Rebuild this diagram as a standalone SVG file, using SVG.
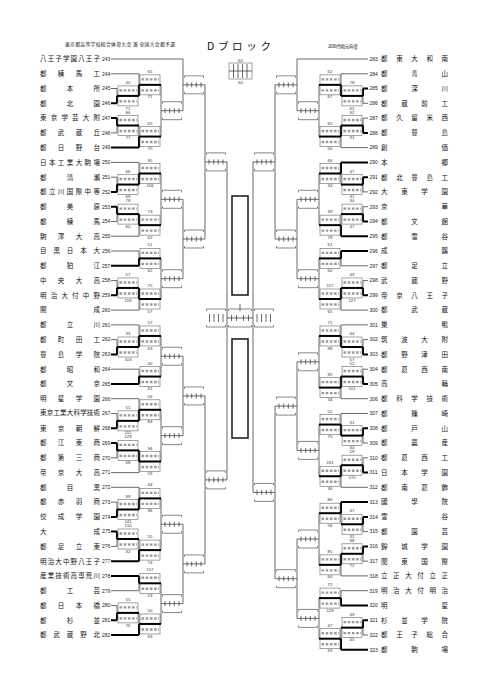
<svg xmlns="http://www.w3.org/2000/svg" width="481" height="680" viewBox="0 0 481 680">
<style>
.ln{fill:none;stroke:#444;stroke-width:.8}
.tk{fill:none;stroke:#000;stroke-width:2}
.bx{fill:none;stroke:#666;stroke-width:.6}
.dg{fill:none;stroke:#9a9a9a;stroke-width:2.4;stroke-dasharray:2.6 1.6}
.br{fill:none;stroke:#555;stroke-width:.7}
.nm{font-family:"Noto Sans CJK JP","Noto Sans CJK SC",sans-serif;font-size:6.5px;fill:#111}
.no{font-family:"Liberation Sans",Arial,sans-serif;font-size:5px;fill:#222}
.sc{font-family:"Liberation Sans",Arial,sans-serif;font-size:4.3px;fill:#333;text-anchor:middle}
.hd{font-family:"Noto Sans CJK JP","Noto Sans CJK SC",sans-serif;fill:#111}
</style>
<defs>
<g id="pb"><rect class="bx" x="1" y="-10" width="20" height="20"/><path class="dg" d="M2.5 -5.5H20M2.5 5.5H20"/><path class="tk" d="M0 0H22"/></g>
<g id="ub"><path class="ln" d="M0 0H22M4 -2.5v5M8.7 -2.5v5M13.3 -2.5v5M18 -2.5v5"/><path class="br" d="M1.5 -7V-9H20.5V-7M1.5 7V9H20.5V7"/></g>
</defs>
<rect width="481" height="680" fill="#fff"/>
<g id="header">
<text class="hd" x="65" y="46" font-size="4.8" textLength="110" lengthAdjust="spacing">東京都高等学校総合体育大会 兼 全国大会都予選</text>
<text class="hd" x="207" y="50" font-size="10.5" textLength="64" lengthAdjust="spacing">Dブロック</text>
<text class="hd" x="328" y="47.5" font-size="4.5" textLength="30" lengthAdjust="spacing">2019(令和元)年度</text>
</g>
<g id="legend">
<text class="sc" x="240.5" y="61.5" font-size="4">60</text>
<rect class="bx" x="229" y="63" width="23" height="16"/>
<path class="ln" d="M229 71H252M233.5 64v14M238 64v14M242.5 64v14M247 64v14"/>
<text class="sc" x="240.5" y="84" font-size="4">60</text>
</g>
<g id="connectors">
<path class="ln" d="M111 59H183M111 73.8H139M111 88.5H117M111 132.9H117M111 162.4H139M111 177.2H117M111 221.5H117M111 236.2H139M111 251H139M111 280.6H117M111 310.1H139M111 324.9H139M111 339.6H117M111 369.2H139M111 398.7H139M111 413.5H117M111 457.8H117M111 472.6H139M111 487.3H139M111 502.1H117M111 546.4H117M111 590.7H139M111 605.5H117"/>
<path class="tk" d="M111 103.3H117M111 118.1H117M111 147.6H139M111 191.9H117M111 206.7H117M111 265.8H139M111 295.3H117M111 354.4H117M111 383.9H139M111 428.2H117M111 443H117M111 516.9H117M111 531.6H117M111 561.2H139M111 575.9H139M111 620.3H117M111 635H139"/>
<path class="ln" d="M117 88.5V103.3M139 73.8V95.9M117 118.1V132.9M139 125.5V147.6M161 84.85V136.55M183 59V110.7M117 177.2V191.9M139 162.4V184.55M117 206.7V221.5M139 214.1V236.2M161 173.5V225.15M139 251V265.8M117 280.6V295.3M139 287.95V310.1M161 258.4V299M183 199.3V278.7M205 84.85V239M117 339.6V354.4M139 324.9V347M139 369.2V383.9M161 335.95V376.55M117 413.5V428.2M139 398.7V420.85M117 443V457.8M139 450.4V472.6M161 409.8V461.5M183 356.25V435.65M117 502.1V516.9M139 487.3V509.5M117 531.6V546.4M139 539V561.2M161 498.4V550.1M139 575.9V590.7M117 605.5V620.3M139 612.9V635M161 583.3V623.95M183 524.25V603.6M205 395.95V563.9M227 161.9V479.9"/>
<path class="tk" d="M117 103.3V95.9M139 95.9V84.85M117 118.1V125.5M139 147.6V136.55M117 191.9V184.55M139 184.55V173.5M117 206.7V214.1M139 214.1V225.15M139 265.8V258.4M117 295.3V287.95M139 287.95V299M117 354.4V347M139 347V335.95M139 383.9V376.55M117 428.2V420.85M139 420.85V409.8M117 443V450.4M139 450.4V461.5M117 516.9V509.5M139 509.5V498.4M117 531.6V539M139 561.2V550.1M139 575.9V583.3M117 620.3V612.9M139 635V623.95"/>
<path class="ln" d="M297 59H368M341 73.8H368M363 103.3H368M363 118.1H368M341 147.6H368M363 191.9H368M363 206.7H368M341 265.8H368M363 280.6H368M341 310.1H368M341 324.9H368M363 339.6H368M363 369.2H368M341 398.7H368M341 413.5H368M363 443H368M363 457.8H368M341 487.3H368M363 531.6H368M363 561.2H368M341 575.9H368M341 590.7H368M363 635H368"/>
<path class="tk" d="M363 88.5H368M363 132.9H368M341 162.4H368M363 177.2H368M363 221.5H368M341 236.2H368M341 251H368M363 295.3H368M363 354.4H368M363 383.9H368M363 428.2H368M363 472.6H368M341 502.1H368M363 516.9H368M363 546.4H368M341 605.5H368M363 620.3H368M341 649.8H368"/>
<path class="ln" d="M363 88.5V103.3M341 73.8V95.9M363 118.1V132.9M341 125.5V147.6M319 84.85V136.55M297 59V110.7M363 177.2V191.9M341 162.4V184.55M363 206.7V221.5M341 214.1V236.2M319 173.5V225.15M341 251V265.8M363 280.6V295.3M341 287.95V310.1M319 258.4V299M297 199.3V278.7M275 84.85V239M363 339.6V354.4M341 324.9V347M363 369.2V383.9M341 376.55V398.7M319 335.95V387.6M363 428.2V443M341 413.5V435.6M363 457.8V472.6M341 465.2V487.3M319 424.55V476.25M297 361.8V450.4M363 516.9V531.6M341 502.1V524.25M363 546.4V561.2M341 553.8V575.9M319 513.2V564.85M341 590.7V605.5M363 620.3V635M341 627.65V649.8M319 598.1V638.7M297 539V618.4M275 406.1V578.7M253 161.9V492.4"/>
<path class="tk" d="M363 88.5V95.9M341 95.9V84.85M363 132.9V125.5M341 125.5V136.55M363 177.2V184.55M341 162.4V173.5M363 221.5V214.1M341 236.2V225.15M341 251V258.4M363 295.3V287.95M341 287.95V299M363 354.4V347M341 347V335.95M363 383.9V376.55M341 376.55V387.6M363 428.2V435.6M341 435.6V424.55M363 472.6V465.2M341 465.2V476.25M363 516.9V524.25M341 502.1V513.2M363 546.4V553.8M341 553.8V564.85M341 605.5V598.1M363 620.3V627.65M341 649.8V638.7"/>
</g>
<g id="final">
<path class="br" d="M206.5 311V309H225.5V311M206.5 325V327H225.5V325M254.5 311V309H273.5V311M254.5 325V327H273.5V325M228.5 311V309H251.5V311M228.5 325V327H251.5V325"/>
<path class="ln" d="M209.5 314v8M214 314v8M218.5 314v8M223 314v8M257 314v8M261.5 314v8M266 314v8M270.5 314v8M227 318H253M231.5 315v6M236.5 315v6M243.5 315v6M248.5 315v6M240 304v7"/>
<rect x="232" y="196" width="16" height="99" fill="none" stroke="#222" stroke-width="1.6"/>
<rect x="232" y="339" width="16" height="99" fill="none" stroke="#222" stroke-width="1.6"/>
</g>
<g id="unplayed">
<use href="#ub" x="161" y="110.7"/><use href="#ub" x="183" y="84.85"/><use href="#ub" x="161" y="199.3"/><use href="#ub" x="161" y="278.7"/><use href="#ub" x="183" y="239"/><use href="#ub" x="205" y="161.9"/><use href="#ub" x="161" y="356.25"/><use href="#ub" x="161" y="435.65"/><use href="#ub" x="183" y="395.95"/><use href="#ub" x="161" y="524.25"/><use href="#ub" x="161" y="603.6"/><use href="#ub" x="183" y="563.9"/><use href="#ub" x="205" y="479.9"/>
<use href="#ub" x="297" y="110.7"/><use href="#ub" x="275" y="84.85"/><use href="#ub" x="297" y="199.3"/><use href="#ub" x="297" y="278.7"/><use href="#ub" x="275" y="239"/><use href="#ub" x="253" y="161.9"/><use href="#ub" x="297" y="361.8"/><use href="#ub" x="297" y="450.4"/><use href="#ub" x="275" y="406.1"/><use href="#ub" x="297" y="539"/><use href="#ub" x="297" y="618.4"/><use href="#ub" x="275" y="578.7"/><use href="#ub" x="253" y="492.4"/>
</g>
<g id="played-left">
<g id="mA1"><use href="#pb" x="117" y="95.9"/><text class="sc" x="128" y="83.9">45</text><text class="sc" x="128" y="109.5">71</text></g>
<g id="mA2"><use href="#pb" x="139" y="84.85"/><text class="sc" x="150" y="72.85">65</text><text class="sc" x="150" y="98.45">71</text></g>
<g id="mA3"><use href="#pb" x="117" y="125.5"/><text class="sc" x="128" y="113.5">86</text><text class="sc" x="128" y="139.1">77</text></g>
<g id="mA4"><use href="#pb" x="139" y="136.55"/><text class="sc" x="150" y="124.55">65</text><text class="sc" x="150" y="150.15">75</text></g>
<g id="mB1"><use href="#pb" x="117" y="184.55"/><text class="sc" x="128" y="172.55">66</text><text class="sc" x="128" y="198.15">69</text></g>
<g id="mB2"><use href="#pb" x="139" y="173.5"/><text class="sc" x="150" y="161.5">95</text><text class="sc" x="150" y="187.1">106</text></g>
<g id="mB3"><use href="#pb" x="117" y="214.1"/><text class="sc" x="128" y="202.1">78</text><text class="sc" x="128" y="227.7">60</text></g>
<g id="mB4"><use href="#pb" x="139" y="225.15"/><text class="sc" x="150" y="213.15">73</text><text class="sc" x="150" y="238.75">62</text></g>
<g id="mC1"><use href="#pb" x="139" y="258.4"/><text class="sc" x="150" y="246.4">51</text><text class="sc" x="150" y="272">62</text></g>
<g id="mC2"><use href="#pb" x="117" y="287.95"/><text class="sc" x="128" y="275.95">57</text><text class="sc" x="128" y="301.55">119</text></g>
<g id="mC3"><use href="#pb" x="139" y="299"/><text class="sc" x="150" y="287">75</text><text class="sc" x="150" y="312.6">57</text></g>
<g id="mD1"><use href="#pb" x="117" y="347"/><text class="sc" x="128" y="335">33</text><text class="sc" x="128" y="360.6">103</text></g>
<g id="mD2"><use href="#pb" x="139" y="335.95"/><text class="sc" x="150" y="323.95">57</text><text class="sc" x="150" y="349.55">63</text></g>
<g id="mD3"><use href="#pb" x="139" y="376.55"/><text class="sc" x="150" y="364.55">40</text><text class="sc" x="150" y="390.15">61</text></g>
<g id="mE1"><use href="#pb" x="117" y="420.85"/><text class="sc" x="128" y="408.85">51</text><text class="sc" x="128" y="434.45">111</text></g>
<g id="mE2"><use href="#pb" x="139" y="409.8"/><text class="sc" x="150" y="397.8">56</text><text class="sc" x="150" y="423.4">84</text></g>
<g id="mE3"><use href="#pb" x="117" y="450.4"/><text class="sc" x="128" y="438.4">129</text><text class="sc" x="128" y="464">68</text></g>
<g id="mE4"><use href="#pb" x="139" y="461.5"/><text class="sc" x="150" y="449.5">94</text><text class="sc" x="150" y="475.1">59</text></g>
<g id="mF1"><use href="#pb" x="117" y="509.5"/><text class="sc" x="128" y="497.5">39</text><text class="sc" x="128" y="523.1">141</text></g>
<g id="mF2"><use href="#pb" x="139" y="498.4"/><text class="sc" x="150" y="486.4">44</text><text class="sc" x="150" y="512">96</text></g>
<g id="mF3"><use href="#pb" x="117" y="539"/><text class="sc" x="128" y="527">110</text><text class="sc" x="128" y="552.6">32</text></g>
<g id="mF4"><use href="#pb" x="139" y="550.1"/><text class="sc" x="150" y="538.1">55</text><text class="sc" x="150" y="563.7">74</text></g>
<g id="mG1"><use href="#pb" x="139" y="583.3"/><text class="sc" x="150" y="571.3">117</text><text class="sc" x="150" y="596.9">53</text></g>
<g id="mG2"><use href="#pb" x="117" y="612.9"/><text class="sc" x="128" y="600.9">55</text><text class="sc" x="128" y="626.5">76</text></g>
<g id="mG3"><use href="#pb" x="139" y="623.95"/><text class="sc" x="150" y="611.95">50</text><text class="sc" x="150" y="637.55">69</text></g>
</g>
<g id="played-right">
<g id="ma1"><use href="#pb" x="341" y="95.9"/><text class="sc" x="352" y="83.9">78</text><text class="sc" x="352" y="109.5">61</text></g>
<g id="ma2"><use href="#pb" x="319" y="84.85"/><text class="sc" x="330" y="72.85">62</text><text class="sc" x="330" y="98.45">67</text></g>
<g id="ma3"><use href="#pb" x="341" y="125.5"/><text class="sc" x="352" y="113.5">32</text><text class="sc" x="352" y="139.1">91</text></g>
<g id="ma4"><use href="#pb" x="319" y="136.55"/><text class="sc" x="330" y="124.55">65</text><text class="sc" x="330" y="150.15">50</text></g>
<g id="mb1"><use href="#pb" x="341" y="184.55"/><text class="sc" x="352" y="172.55">47</text><text class="sc" x="352" y="198.15">31</text></g>
<g id="mb2"><use href="#pb" x="319" y="173.5"/><text class="sc" x="330" y="161.5">66</text><text class="sc" x="330" y="187.1">34</text></g>
<g id="mb3"><use href="#pb" x="341" y="214.1"/><text class="sc" x="352" y="202.1">34</text><text class="sc" x="352" y="227.7">47</text></g>
<g id="mb4"><use href="#pb" x="319" y="225.15"/><text class="sc" x="330" y="213.15">39</text><text class="sc" x="330" y="238.75">79</text></g>
<g id="mc1"><use href="#pb" x="319" y="258.4"/><text class="sc" x="330" y="246.4">61</text><text class="sc" x="330" y="272">60</text></g>
<g id="mc2"><use href="#pb" x="341" y="287.95"/><text class="sc" x="352" y="275.95">49</text><text class="sc" x="352" y="301.55">127</text></g>
<g id="mc3"><use href="#pb" x="319" y="299"/><text class="sc" x="330" y="287">117</text><text class="sc" x="330" y="312.6">65</text></g>
<g id="md1"><use href="#pb" x="341" y="347"/><text class="sc" x="352" y="335">44</text><text class="sc" x="352" y="360.6">57</text></g>
<g id="md2"><use href="#pb" x="319" y="335.95"/><text class="sc" x="330" y="323.95">71</text><text class="sc" x="330" y="349.55">98</text></g>
<g id="md3"><use href="#pb" x="341" y="376.55"/><text class="sc" x="352" y="364.55">52</text><text class="sc" x="352" y="390.15">101</text></g>
<g id="md4"><use href="#pb" x="319" y="387.6"/><text class="sc" x="330" y="375.6">95</text><text class="sc" x="330" y="401.2">34</text></g>
<g id="me1"><use href="#pb" x="341" y="435.6"/><text class="sc" x="352" y="423.6">91</text><text class="sc" x="352" y="449.2">30</text></g>
<g id="me2"><use href="#pb" x="319" y="424.55"/><text class="sc" x="330" y="412.55">52</text><text class="sc" x="330" y="438.15">75</text></g>
<g id="me3"><use href="#pb" x="341" y="465.2"/><text class="sc" x="352" y="453.2">29</text><text class="sc" x="352" y="478.8">170</text></g>
<g id="me4"><use href="#pb" x="319" y="476.25"/><text class="sc" x="330" y="464.25">191</text><text class="sc" x="330" y="489.85">36</text></g>
<g id="mf1"><use href="#pb" x="341" y="524.25"/><text class="sc" x="352" y="512.25">47</text><text class="sc" x="352" y="537.85">31</text></g>
<g id="mf2"><use href="#pb" x="319" y="513.2"/><text class="sc" x="330" y="501.2">86</text><text class="sc" x="330" y="526.8">56</text></g>
<g id="mf3"><use href="#pb" x="341" y="553.8"/><text class="sc" x="352" y="541.8">98</text><text class="sc" x="352" y="567.4">72</text></g>
<g id="mf4"><use href="#pb" x="319" y="564.85"/><text class="sc" x="330" y="552.85">85</text><text class="sc" x="330" y="578.45">60</text></g>
<g id="mg1"><use href="#pb" x="319" y="598.1"/><text class="sc" x="330" y="586.1">72</text><text class="sc" x="330" y="611.7">129</text></g>
<g id="mg2"><use href="#pb" x="341" y="627.65"/><text class="sc" x="352" y="615.65">49</text><text class="sc" x="352" y="641.25">45</text></g>
<g id="mg3"><use href="#pb" x="319" y="638.7"/><text class="sc" x="330" y="626.7">47</text><text class="sc" x="330" y="652.3">69</text></g>
</g>
<g id="teams-left">
<g id="t243"><text class="nm" x="40" y="61.3" textLength="60" lengthAdjust="spacing">八王子学園八王子</text><text class="no" x="102" y="60.8">243</text></g>
<g id="t244"><text class="nm" x="40" y="76.1" textLength="60" lengthAdjust="spacing">都練馬工</text><text class="no" x="102" y="75.6">244</text></g>
<g id="t245"><text class="nm" x="40" y="90.8" textLength="60" lengthAdjust="spacing">都本所</text><text class="no" x="102" y="90.3">245</text></g>
<g id="t246"><text class="nm" x="40" y="105.6" textLength="60" lengthAdjust="spacing">都北園</text><text class="no" x="102" y="105.1">246</text></g>
<g id="t247"><text class="nm" x="40" y="120.4" textLength="60" lengthAdjust="spacing">東京学芸大附</text><text class="no" x="102" y="119.9">247</text></g>
<g id="t248"><text class="nm" x="40" y="135.2" textLength="60" lengthAdjust="spacing">都武蔵丘</text><text class="no" x="102" y="134.7">248</text></g>
<g id="t249"><text class="nm" x="40" y="149.9" textLength="60" lengthAdjust="spacing">都日野台</text><text class="no" x="102" y="149.4">249</text></g>
<g id="t250"><text class="nm" x="40" y="164.7" textLength="60" lengthAdjust="spacing">日本工業大駒場</text><text class="no" x="102" y="164.2">250</text></g>
<g id="t251"><text class="nm" x="40" y="179.5" textLength="60" lengthAdjust="spacing">都清瀬</text><text class="no" x="102" y="179">251</text></g>
<g id="t252"><text class="nm" x="40" y="194.2" textLength="60" lengthAdjust="spacing">都立川国際中等</text><text class="no" x="102" y="193.7">252</text></g>
<g id="t253"><text class="nm" x="40" y="209" textLength="60" lengthAdjust="spacing">都美原</text><text class="no" x="102" y="208.5">253</text></g>
<g id="t254"><text class="nm" x="40" y="223.8" textLength="60" lengthAdjust="spacing">都練馬</text><text class="no" x="102" y="223.3">254</text></g>
<g id="t255"><text class="nm" x="40" y="238.5" textLength="60" lengthAdjust="spacing">駒澤大高</text><text class="no" x="102" y="238">255</text></g>
<g id="t256"><text class="nm" x="40" y="253.3" textLength="60" lengthAdjust="spacing">目黒日本大</text><text class="no" x="102" y="252.8">256</text></g>
<g id="t257"><text class="nm" x="40" y="268.1" textLength="60" lengthAdjust="spacing">都狛江</text><text class="no" x="102" y="267.6">257</text></g>
<g id="t258"><text class="nm" x="40" y="282.9" textLength="60" lengthAdjust="spacing">中央大高</text><text class="no" x="102" y="282.4">258</text></g>
<g id="t259"><text class="nm" x="40" y="297.6" textLength="60" lengthAdjust="spacing">明治大付中野</text><text class="no" x="102" y="297.1">259</text></g>
<g id="t260"><text class="nm" x="40" y="312.4" textLength="60" lengthAdjust="spacing">開成</text><text class="no" x="102" y="311.9">260</text></g>
<g id="t261"><text class="nm" x="40" y="327.2" textLength="60" lengthAdjust="spacing">都立川</text><text class="no" x="102" y="326.7">261</text></g>
<g id="t262"><text class="nm" x="40" y="341.9" textLength="60" lengthAdjust="spacing">都町田工</text><text class="no" x="102" y="341.4">262</text></g>
<g id="t263"><text class="nm" x="40" y="356.7" textLength="60" lengthAdjust="spacing">豊島学院</text><text class="no" x="102" y="356.2">263</text></g>
<g id="t264"><text class="nm" x="40" y="371.5" textLength="60" lengthAdjust="spacing">都昭和</text><text class="no" x="102" y="371">264</text></g>
<g id="t265"><text class="nm" x="40" y="386.2" textLength="60" lengthAdjust="spacing">都文京</text><text class="no" x="102" y="385.7">265</text></g>
<g id="t266"><text class="nm" x="40" y="401" textLength="60" lengthAdjust="spacing">明星学園</text><text class="no" x="102" y="400.5">266</text></g>
<g id="t267"><text class="nm" x="40" y="415.4" font-size="5" textLength="60" lengthAdjust="spacing">東京工業大科学技術</text><text class="no" x="102" y="415.3">267</text></g>
<g id="t268"><text class="nm" x="40" y="430.5" textLength="60" lengthAdjust="spacing">東京朝鮮</text><text class="no" x="102" y="430">268</text></g>
<g id="t269"><text class="nm" x="40" y="445.3" textLength="60" lengthAdjust="spacing">都江東商</text><text class="no" x="102" y="444.8">269</text></g>
<g id="t270"><text class="nm" x="40" y="460.1" textLength="60" lengthAdjust="spacing">都第三商</text><text class="no" x="102" y="459.6">270</text></g>
<g id="t271"><text class="nm" x="40" y="474.9" textLength="60" lengthAdjust="spacing">帝京大高</text><text class="no" x="102" y="474.4">271</text></g>
<g id="t272"><text class="nm" x="40" y="489.6" textLength="60" lengthAdjust="spacing">都目黒</text><text class="no" x="102" y="489.1">272</text></g>
<g id="t273"><text class="nm" x="40" y="504.4" textLength="60" lengthAdjust="spacing">都赤羽商</text><text class="no" x="102" y="503.9">273</text></g>
<g id="t274"><text class="nm" x="40" y="519.2" textLength="60" lengthAdjust="spacing">佼成学園</text><text class="no" x="102" y="518.7">274</text></g>
<g id="t275"><text class="nm" x="40" y="533.9" textLength="60" lengthAdjust="spacing">大成</text><text class="no" x="102" y="533.4">275</text></g>
<g id="t276"><text class="nm" x="40" y="548.7" textLength="60" lengthAdjust="spacing">都足立東</text><text class="no" x="102" y="548.2">276</text></g>
<g id="t277"><text class="nm" x="40" y="563.5" textLength="60" lengthAdjust="spacing">明治大中野八王子</text><text class="no" x="102" y="563">277</text></g>
<g id="t278"><text class="nm" x="40" y="578.2" textLength="60" lengthAdjust="spacing">産業技術高専荒川</text><text class="no" x="102" y="577.7">278</text></g>
<g id="t279"><text class="nm" x="40" y="593" textLength="60" lengthAdjust="spacing">都工芸</text><text class="no" x="102" y="592.5">279</text></g>
<g id="t280"><text class="nm" x="40" y="607.8" textLength="60" lengthAdjust="spacing">都日本橋</text><text class="no" x="102" y="607.3">280</text></g>
<g id="t281"><text class="nm" x="40" y="622.6" textLength="60" lengthAdjust="spacing">都杉並</text><text class="no" x="102" y="622.1">281</text></g>
<g id="t282"><text class="nm" x="40" y="637.3" textLength="60" lengthAdjust="spacing">都武蔵野北</text><text class="no" x="102" y="636.8">282</text></g>
</g>
<g id="teams-right">
<g id="t283"><text class="no" x="369.5" y="60.8">283</text><text class="nm" x="381" y="61.3" textLength="67" lengthAdjust="spacing">都東大和南</text></g>
<g id="t284"><text class="no" x="369.5" y="75.6">284</text><text class="nm" x="381" y="76.1" textLength="67" lengthAdjust="spacing">都青山</text></g>
<g id="t285"><text class="no" x="369.5" y="90.3">285</text><text class="nm" x="381" y="90.8" textLength="67" lengthAdjust="spacing">都深川</text></g>
<g id="t286"><text class="no" x="369.5" y="105.1">286</text><text class="nm" x="381" y="105.6" textLength="67" lengthAdjust="spacing">都蔵前工</text></g>
<g id="t287"><text class="no" x="369.5" y="119.9">287</text><text class="nm" x="381" y="120.4" textLength="67" lengthAdjust="spacing">都久留米西</text></g>
<g id="t288"><text class="no" x="369.5" y="134.7">288</text><text class="nm" x="381" y="135.2" textLength="67" lengthAdjust="spacing">都豊島</text></g>
<g id="t289"><text class="no" x="369.5" y="149.4">289</text><text class="nm" x="381" y="149.9" textLength="67" lengthAdjust="spacing">創価</text></g>
<g id="t290"><text class="no" x="369.5" y="164.2">290</text><text class="nm" x="381" y="164.7" textLength="67" lengthAdjust="spacing">本郷</text></g>
<g id="t291"><text class="no" x="369.5" y="179">291</text><text class="nm" x="381" y="179.5" textLength="67" lengthAdjust="spacing">都北豊島工</text></g>
<g id="t292"><text class="no" x="369.5" y="193.7">292</text><text class="nm" x="381" y="194.2" textLength="67" lengthAdjust="spacing">大東学園</text></g>
<g id="t293"><text class="no" x="369.5" y="208.5">293</text><text class="nm" x="381" y="209" textLength="67" lengthAdjust="spacing">京華</text></g>
<g id="t294"><text class="no" x="369.5" y="223.3">294</text><text class="nm" x="381" y="223.8" textLength="67" lengthAdjust="spacing">都文館</text></g>
<g id="t295"><text class="no" x="369.5" y="238">295</text><text class="nm" x="381" y="238.5" textLength="67" lengthAdjust="spacing">都雪谷</text></g>
<g id="t296"><text class="no" x="369.5" y="252.8">296</text><text class="nm" x="381" y="253.3" textLength="67" lengthAdjust="spacing">成蹊</text></g>
<g id="t297"><text class="no" x="369.5" y="267.6">297</text><text class="nm" x="381" y="268.1" textLength="67" lengthAdjust="spacing">都足立</text></g>
<g id="t298"><text class="no" x="369.5" y="282.4">298</text><text class="nm" x="381" y="282.9" textLength="67" lengthAdjust="spacing">武蔵野</text></g>
<g id="t299"><text class="no" x="369.5" y="297.1">299</text><text class="nm" x="381" y="297.6" textLength="67" lengthAdjust="spacing">帝京八王子</text></g>
<g id="t300"><text class="no" x="369.5" y="311.9">300</text><text class="nm" x="381" y="312.4" textLength="67" lengthAdjust="spacing">都武蔵</text></g>
<g id="t301"><text class="no" x="369.5" y="326.7">301</text><text class="nm" x="381" y="327.2" textLength="67" lengthAdjust="spacing">巣鴨</text></g>
<g id="t302"><text class="no" x="369.5" y="341.4">302</text><text class="nm" x="381" y="341.9" textLength="67" lengthAdjust="spacing">筑波大附</text></g>
<g id="t303"><text class="no" x="369.5" y="356.2">303</text><text class="nm" x="381" y="356.7" textLength="67" lengthAdjust="spacing">都野津田</text></g>
<g id="t304"><text class="no" x="369.5" y="371">304</text><text class="nm" x="381" y="371.5" textLength="67" lengthAdjust="spacing">都葛西南</text></g>
<g id="t305"><text class="no" x="369.5" y="385.7">305</text><text class="nm" x="381" y="386.2" textLength="67" lengthAdjust="spacing">高輪</text></g>
<g id="t306"><text class="no" x="369.5" y="400.5">306</text><text class="nm" x="381" y="401" textLength="67" lengthAdjust="spacing">都科学技術</text></g>
<g id="t307"><text class="no" x="369.5" y="415.3">307</text><text class="nm" x="381" y="415.8" textLength="67" lengthAdjust="spacing">都篠崎</text></g>
<g id="t308"><text class="no" x="369.5" y="430">308</text><text class="nm" x="381" y="430.5" textLength="67" lengthAdjust="spacing">都戸山</text></g>
<g id="t309"><text class="no" x="369.5" y="444.8">309</text><text class="nm" x="381" y="445.3" textLength="67" lengthAdjust="spacing">都農産</text></g>
<g id="t310"><text class="no" x="369.5" y="459.6">310</text><text class="nm" x="381" y="460.1" textLength="67" lengthAdjust="spacing">都葛西工</text></g>
<g id="t311"><text class="no" x="369.5" y="474.4">311</text><text class="nm" x="381" y="474.9" textLength="67" lengthAdjust="spacing">日本学園</text></g>
<g id="t312"><text class="no" x="369.5" y="489.1">312</text><text class="nm" x="381" y="489.6" textLength="67" lengthAdjust="spacing">都南葛飾</text></g>
<g id="t313"><text class="no" x="369.5" y="503.9">313</text><text class="nm" x="381" y="504.4" textLength="67" lengthAdjust="spacing">國學院</text></g>
<g id="t314"><text class="no" x="369.5" y="518.7">314</text><text class="nm" x="381" y="519.2" textLength="67" lengthAdjust="spacing">雪谷</text></g>
<g id="t315"><text class="no" x="369.5" y="533.4">315</text><text class="nm" x="381" y="533.9" textLength="67" lengthAdjust="spacing">都園芸</text></g>
<g id="t316"><text class="no" x="369.5" y="548.2">316</text><text class="nm" x="381" y="548.7" textLength="67" lengthAdjust="spacing">錦城学園</text></g>
<g id="t317"><text class="no" x="369.5" y="563">317</text><text class="nm" x="381" y="563.5" textLength="67" lengthAdjust="spacing">関東国際</text></g>
<g id="t318"><text class="no" x="369.5" y="577.7">318</text><text class="nm" x="381" y="578.2" textLength="67" lengthAdjust="spacing">立正大付立正</text></g>
<g id="t319"><text class="no" x="369.5" y="592.5">319</text><text class="nm" x="381" y="593" textLength="67" lengthAdjust="spacing">明治大付明治</text></g>
<g id="t320"><text class="no" x="369.5" y="607.3">320</text><text class="nm" x="381" y="607.8" textLength="67" lengthAdjust="spacing">明星</text></g>
<g id="t321"><text class="no" x="369.5" y="622.1">321</text><text class="nm" x="381" y="622.6" textLength="67" lengthAdjust="spacing">杉並学院</text></g>
<g id="t322"><text class="no" x="369.5" y="636.8">322</text><text class="nm" x="381" y="637.3" textLength="67" lengthAdjust="spacing">都王子総合</text></g>
<g id="t323"><text class="no" x="369.5" y="651.6">323</text><text class="nm" x="381" y="652.1" textLength="67" lengthAdjust="spacing">都駒場</text></g>
</g>
</svg>
